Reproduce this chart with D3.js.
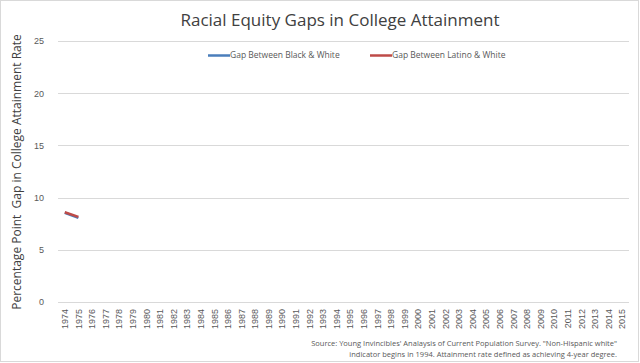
<!DOCTYPE html>
<html>
<head>
<meta charset="utf-8">
<script src="https://cdn.jsdelivr.net/npm/d3@7"></script>
<style>
  body { margin: 0; background: #fff; }
  svg { display: block; font-family: "Open Sans", "Liberation Sans", sans-serif; }
</style>
</head>
<body>
<div id="chart"></div>
<script>
// years on the category axis
var years = d3.range(1974, 2016).map(String);
// gap values (percentage points); only the first two years are plotted
var blackGap = [8.55, 8.05];
var latinoGap = [8.6, 8.15];
var yTicks = [0, 5, 10, 15, 20, 25];

var seriesNames = ["Gap Between Black & White", "Gap Between Latino & White"];
var seriesColors = ["#4a7ebb", "#be4b48"];

var width = 640, height = 363;
var margin = { top: 41, right: 11, bottom: 60, left: 58 };

var svg = d3.select("#chart").append("svg")
  .attr("width", width)
  .attr("height", height);

// outer border
svg.append("rect")
  .attr("x", 0.5).attr("y", 0.5)
  .attr("width", width - 2).attr("height", height - 2)
  .attr("fill", "#fff").attr("stroke", "#d9d9d9");

var x = d3.scaleBand()
  .domain(years)
  .range([margin.left, width - margin.right]);

var y = d3.scaleLinear()
  .domain([0, 25])
  .range([height - margin.bottom - 1, margin.top]);

// gridlines
svg.append("g")
  .selectAll("line")
  .data(yTicks)
  .enter()
  .append("line")
  .attr("x1", margin.left)
  .attr("x2", width - margin.right)
  .attr("y1", function(d) { return Math.round(y(d)) + 0.5; })
  .attr("y2", function(d) { return Math.round(y(d)) + 0.5; })
  .attr("stroke", "#d9d9d9");

// y axis labels
var yAxis = d3.axisLeft(y).tickValues(yTicks).tickSize(0).tickPadding(14);
var gy = svg.append("g")
  .attr("transform", "translate(" + margin.left + ",0)")
  .call(yAxis);
gy.select(".domain").remove();
gy.selectAll("text")
  .attr("fill", "#595959")
  .style("font-size", "9px");

// x axis labels (rotated)
var xAxis = d3.axisBottom(x).tickSize(0).tickPadding(4);
var gx = svg.append("g")
  .attr("transform", "translate(0," + (height - margin.bottom) + ")")
  .call(xAxis);
gx.select(".domain").remove();
gx.selectAll("text")
  .attr("fill", "#595959")
  .style("font-size", "9px")
  .attr("text-anchor", "end")
  .attr("transform", "rotate(-90)")
  .attr("x", -6)
  .attr("y", 0)
  .attr("dy", "0.35em");

// lines
var line = d3.line()
  .x(function(d, i) { return x(years[i]) + x.bandwidth() / 2; })
  .y(function(d) { return y(d); });

[blackGap, latinoGap].forEach(function(s, i) {
  svg.append("path")
    .datum(s)
    .attr("fill", "none")
    .attr("stroke", seriesColors[i])
    .attr("stroke-width", 2.5)
    .attr("d", line);
});

// title
svg.append("text")
  .attr("x", 340)
  .attr("y", 26)
  .attr("text-anchor", "middle")
  .attr("fill", "#404040")
  .style("font-size", "17px")
  .text("Racial Equity Gaps in College Attainment");

// y axis title
svg.append("text")
  .attr("transform", "translate(21," + 172 + ") rotate(-90)")
  .attr("text-anchor", "middle")
  .attr("fill", "#404040")
  .style("font-size", "12px")
  .style("white-space", "pre")
  .text("Percentage Point  Gap in College Attainment Rate");

// legend
var legendX = [208, 370];
var lg = svg.append("g");
seriesNames.forEach(function(name, i) {
  lg.append("line")
    .attr("x1", legendX[i]).attr("x2", legendX[i] + 22)
    .attr("y1", 55.5).attr("y2", 55.5)
    .attr("stroke", seriesColors[i])
    .attr("stroke-width", 2.5);
  lg.append("text")
    .attr("x", legendX[i] + 22)
    .attr("y", 55.5)
    .attr("dy", "0.35em")
    .attr("fill", "#595959")
    .style("font-size", "8.5px")
    .text(name);
});

// source note
var notes = [
  "Source: Young Invincibles' Analaysis of Current Population Survey. \"Non-Hispanic white\"",
  "indicator begins in 1994. Attainment rate defined as achieving 4-year degree."
];
svg.append("g")
  .selectAll("text")
  .data(notes)
  .enter()
  .append("text")
  .attr("x", 617)
  .attr("y", function(d, i) { return 346 + i * 11; })
  .attr("text-anchor", "end")
  .attr("fill", "#595959")
  .style("font-size", "7.5px")
  .text(function(d) { return d; });
</script>
</body>
</html>
